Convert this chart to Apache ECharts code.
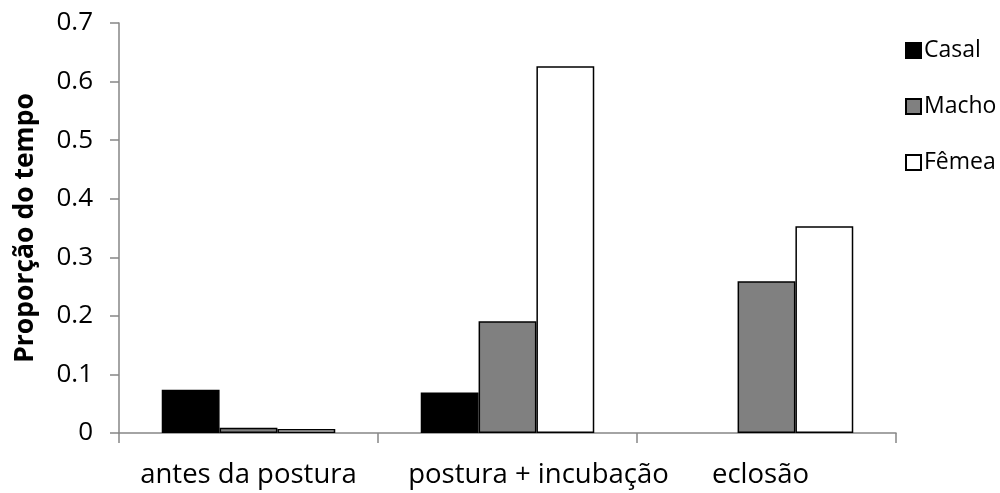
<!DOCTYPE html>
<html>
<head>
<meta charset="utf-8">
<script src="https://cdn.jsdelivr.net/npm/echarts@6/dist/echarts.min.js"></script>
<style>html,body{margin:0;padding:0;background:#fff}#c{width:1000px;height:493px}</style>
</head>
<body>
<div id="c"></div>
<script>
const categories = ['antes da postura', 'postura + incubação', 'eclosão'];
const casal = [0.074, 0.069, 0];
const macho = [0.009, 0.191, 0.259];
const femea = [0.007, 0.626, 0.353];
const yTicks = [0, 0.1, 0.2, 0.3, 0.4, 0.5, 0.6, 0.7];

const FONT = 'Open Sans';
const chart = echarts.init(document.getElementById('c'), null, {renderer: 'canvas'});
const labelRich = {
  a: {fontFamily: FONT, fontSize: 27.5, color: '#000', padding: [0, 0, 0, 0]},
  b: {fontFamily: FONT, fontSize: 27.5, color: '#000', padding: [0, 0, 0, 62]},
  c: {fontFamily: FONT, fontSize: 27.5, color: '#000', padding: [0, 12, 0, 0]}
};
const keys = ['a', 'b', 'c'];
const barStyle = (fill) => ({color: fill, borderColor: '#000', borderWidth: 1.5});
const toData = (arr) => arr.map(v => (v === 0 ? '-' : v));
chart.setOption({
  animation: false,
  backgroundColor: '#fff',
  grid: {left: 119, right: 104, top: 23, bottom: 60, containLabel: false},
  legend: {
    orient: 'vertical', left: 900, top: 34, itemGap: 33,
    icon: 'rect', itemWidth: 15, itemHeight: 15,
    textStyle: {fontFamily: FONT, fontSize: 23, color: '#000', padding: [0, 0, 0, -2]},
    data: ['Casal', 'Macho', 'Fêmea']
  },
  xAxis: {
    type: 'category', data: categories,
    axisLine: {lineStyle: {color: '#868686', width: 1.5}},
    axisTick: {show: true, alignWithLabel: false, length: 10, lineStyle: {color: '#868686', width: 1.5}},
    axisLabel: {
      margin: 28, interval: 0,
      formatter: (v) => '{' + keys[categories.indexOf(v)] + '|' + v + '}',
      rich: labelRich
    }
  },
  yAxis: {
    type: 'value', min: 0, max: 0.7, interval: 0.1,
    name: 'Proporção do tempo', nameLocation: 'middle', nameGap: 80,
    nameTextStyle: {fontFamily: FONT, fontSize: 26.5, fontWeight: 'bold', color: '#000'},
    splitLine: {show: false},
    axisLine: {show: true, lineStyle: {color: '#868686', width: 1.5}},
    axisTick: {show: true, length: 9, lineStyle: {color: '#868686', width: 1.5}},
    axisLabel: {
      margin: 26, fontFamily: FONT, fontSize: 26, color: '#000',
      formatter: (v) => {
        const t = yTicks.find(x => Math.abs(x - v) < 1e-9);
        return t === 0 ? '0' : String(t !== undefined ? t : v);
      }
    }
  },
  series: [
    {name: 'Casal', type: 'bar', data: toData(casal), barGap: '0%', barCategoryGap: '33%', itemStyle: barStyle('#000')},
    {name: 'Macho', type: 'bar', data: toData(macho), itemStyle: barStyle('#808080')},
    {name: 'Fêmea', type: 'bar', data: toData(femea), itemStyle: barStyle('#fff')}
  ]
});
</script>
</body>
</html>
